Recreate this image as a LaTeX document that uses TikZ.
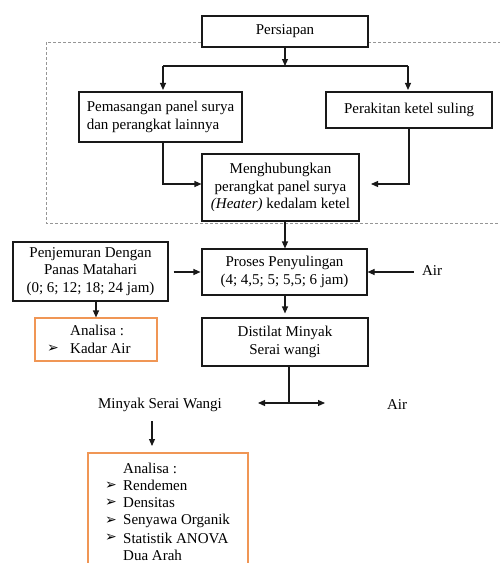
\documentclass[tikz,border=0pt]{standalone}
\usepackage{fontspec}
\setmainfont{Liberation Serif}
\newfontfamily\symfont{DejaVu Sans}
\usetikzlibrary{arrows.meta,calc}
\definecolor{boxorange}{RGB}{240,150,85}
\definecolor{dashgray}{RGB}{150,150,150}
\begin{document}
\begin{tikzpicture}[x=1pt,y=-1pt,
  every node/.style={font=\fontsize{15}{17.5}\selectfont, inner sep=0pt},
  blackbox/.style={draw=black!90, line width=1.1pt, fill=white},
  orangebox/.style={draw=boxorange, line width=1.1pt, fill=white},
  plain/.style={},
  conn/.style={draw=black!90, line width=1.1pt},
  arr/.style={conn, -{Triangle[length=7pt,width=6pt]}},
  bul/.style={font=\symfont\fontsize{14}{14}\selectfont}]
\useasboundingbox (0,0) rectangle (500,563);
\clip (0,0) rectangle (500,563);
% dashed frame
\draw[dashgray, line width=0.6pt, dash pattern=on 3pt off 2pt] (46,42) rectangle (510,223);
% boxes
\node[blackbox, minimum width=166pt, minimum height=31pt] (pers) at (285,31.5) {Persiapan};
\node[blackbox, minimum width=163pt, minimum height=50pt, align=left] (pem) at (160.5,117)
  {Pemasangan panel surya\\dan perangkat lainnya};
\node[blackbox, minimum width=166pt, minimum height=36pt] (per) at (409,110) {Perakitan ketel suling};
\node[blackbox, minimum width=157pt, minimum height=67pt, align=center] (meng) at (280.5,187.5)
  {Menghubungkan\\perangkat panel surya\\\textit{(Heater)} kedalam ketel};
\node[blackbox, minimum width=165pt, minimum height=46pt, align=center] (proses) at (284.5,272)
  {Proses Penyulingan\\(4; 4,5; 5; 5,5; 6 jam)};
\node[blackbox, minimum width=155pt, minimum height=59pt, align=center] (penj) at (90.5,271.5)
  {Penjemuran Dengan\\Panas Matahari\\(0; 6; 12; 18; 24 jam)};
\node[orangebox, minimum width=122pt, minimum height=43pt] (ana1) at (96,339.5) {};
\node[plain, anchor=west] (ana1a) at (70,330.5) {Analisa :};
\node[plain, anchor=west] (ana1b) at (70,348.5) {Kadar Air};
\node[bul] (ana1bul) at (53,348.5) {➢};
\node[blackbox, minimum width=166pt, minimum height=48pt, align=center] (dist) at (285,342)
  {Distilat Minyak\\Serai wangi};
\node[plain] (air1) at (432,271) {Air};
\node[plain] (msw) at (160,405) {Minyak Serai Wangi};
\node[plain] (air2) at (397,405) {Air};
% bottom analysis box
\draw[orangebox] (88,453) rectangle (248,575);
\node[plain, anchor=west] (t0) at (123,468) {Analisa :};
\node[plain, anchor=west] (t1) at (123,485.5) {Rendemen};
\node[plain, anchor=west] (t2) at (123,503) {Densitas};
\node[plain, anchor=west] (t3) at (123,520.5) {Senyawa Organik};
\node[plain, anchor=west] (t4) at (123,538) {Statistik ANOVA};
\node[plain, anchor=west] (t5) at (123,555.5) {Dua Arah};
\node[bul] (b1) at (111,485.5) {➢};
\node[bul] (b2) at (111,503) {➢};
\node[bul] (b3) at (111,520.5) {➢};
\node[bul] (b4) at (111,538) {➢};
% coordinates
\coordinate (split) at (285,66);
\coordinate (splitL) at (163,66);
\coordinate (splitR) at (408,66);
\coordinate (joinL) at (163,184);
\coordinate (joinR) at (409,184);
\coordinate (joinRend) at (371,184);
\coordinate (dj) at (289,403);
\coordinate (djL) at (258,403);
\coordinate (djR) at (325,403);
% connectors
\draw[arr] (pers.south) -- (split);
\draw[conn] (splitL) -- (splitR);
\draw[arr, shorten >=1.5pt] (splitL) -- (splitL |- pem.north);
\draw[arr, shorten >=1.5pt] (splitR) -- (splitR |- per.north);
\draw[arr] (pem.south -| splitL) -- (joinL) -- (joinL -| meng.west);
\draw[arr] (per.south -| joinR) -- (joinR) -- (joinRend);
\draw[arr] (meng.south -| split) -- (proses.north -| split);
\draw[arr, shorten <=5pt, shorten >=1pt] (penj.east |- proses.west) -- (proses.west);
\draw[arr, shorten <=8pt] (air1.west |- proses.east) -- (proses.east);
\draw[arr] (penj.south -| ana1.north) -- (ana1.north);
\draw[arr, shorten >=4pt] (proses.south -| split) -- (dist.north -| split);
\draw[conn] (dist.south -| dj) -- (dj);
\draw[arr] (dj) -- (djL);
\draw[arr] (dj) -- (djR);
\draw[arr, shorten <=9pt, shorten >=7pt] (msw.south -| 152,0) -- (152,453);
\end{tikzpicture}
\end{document}
